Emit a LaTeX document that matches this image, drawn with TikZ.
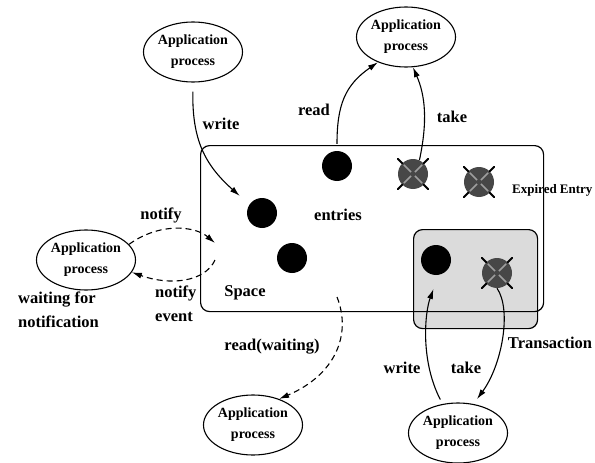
\documentclass[tikz,border=0pt]{standalone}
\usepackage{fontspec}
\setmainfont{Liberation Serif}
\usetikzlibrary{shapes.geometric,arrows.meta,calc}
\newcommand\appfont{\fontsize{14}{21}\selectfont\bfseries}
\newcommand\lblfont{\fontsize{16.5}{23.5}\selectfont\bfseries}
\newcommand\xpfont{\fontsize{13}{15}\selectfont\bfseries}
\tikzset{
  app/.style={ellipse, draw, line width=1.1pt, minimum width=92pt, minimum height=60pt, inner sep=0pt, align=center, font=\appfont},
  entry/.style={circle, fill=black, minimum size=30pt, inner sep=0pt},
  xentry/.style={circle, fill=black!72, minimum size=30pt, inner sep=0pt},
  lbl/.style={font=\lblfont, inner sep=0pt},
  conn/.style={line width=1.1pt, -{Latex[length=10pt,width=6pt]}},
  dconn/.style={conn, dash pattern=on 6pt off 4pt},
  spacebox/.style={draw, line width=1.2pt, rounded corners=9pt},
  transbox/.style={draw, line width=1.2pt, rounded corners=9pt, fill=black!14},
  xline/.style={line width=2pt, line cap=round},
  xinner/.style={line width=1.6pt, black!38},
}
\newcommand\xcross[1]{%
  \foreach \a in {45,135,225,315}{%
    \draw[xline] (#1.\a) -- ($(#1)!1.42!(#1.\a)$);
    \draw[xinner] ($(#1)!0.18!(#1.\a)$) -- ($(#1)!0.85!(#1.\a)$);
  }}
\begin{document}
\begin{tikzpicture}[x=1pt,y=-1pt]
\useasboundingbox (0,0) rectangle (595,463);
% boxes
\node[transbox, minimum width=124pt, minimum height=99pt, anchor=north west] (tb) at (413,229) {};
\node[spacebox, minimum width=343pt, minimum height=166pt, anchor=north west] (sb) at (200,145) {};
% application processes
\node[app] (tl) at (193,52) {Application\\process};
\node[app] (tr) at (406,37) {Application\\process};
\node[app] (lp) at (86,260) {Application\\process};
\node[app] (bc) at (253,425) {Application\\process};
\node[app] (br) at (458,433) {Application\\process};
% entries
\node[entry] (e1) at (262,213) {};
\node[entry] (e2) at (292,258) {};
\node[entry] (e3) at (337,166) {};
\node[entry] (t1) at (436,260) {};
\node[xentry] (x1) at (413,174) {};
\node[xentry] (x2) at (479,182) {};
\node[xentry] (t2) at (497,273) {};
\xcross{x1}
\xcross{x2}
\xcross{t2}
% labels
\node[lbl] (lwrite) at (221,124) {write};
\node[lbl] (lread) at (314,110) {read};
\node[lbl] (ltake) at (452,117) {take};
\node[lbl] (lentries) at (338,215) {entries};
\node[font=\xpfont, inner sep=0pt, anchor=west] (lexp) at (512,190) {Expired Entry};
\node[lbl] (lnotify) at (161,215) {notify};
\node[lbl, align=left, anchor=north west] (levent) at (155,286) {notify\\event};
\node[lbl, align=left, anchor=north west] (lwait) at (18,292) {waiting for\\notification};
\node[lbl] (lspace) at (245,293) {Space};
\node[lbl] (lrw) at (272,347) {read(waiting)};
\node[lbl] (lwrite2) at (402,368) {write};
\node[lbl] (ltake2) at (466,368) {take};
\node[lbl] (ltrans) at (550,343) {Transaction};
% free ends
\coordinate (n1) at (215,243);
\coordinate (n2) at (215,260);
\coordinate (rw) at (337,297);
% connectors
\draw[conn, shorten <=9pt, shorten >=13pt] (tl.south) .. controls (192,140) and (205,165) .. (e1.146);
\draw[conn, shorten <=7pt] (e3.north) .. controls (337,105) and (345,85) .. (tr.222);
\draw[conn] (x1.65) .. controls (428,120) and (425,95) .. (tr.283);
\draw[dconn] (lp.20) .. controls (160,222) and (195,226) .. (n1);
\draw[dconn] (n2) .. controls (205,282) and (170,286) .. (lp.-15);
\draw[dconn] (rw) .. controls (352,335) and (335,375) .. (bc.45);
\draw[conn, shorten <=5pt, shorten >=15pt] (br.118) .. controls (420,360) and (425,312) .. (t1.-80);
\draw[conn, shorten >=6pt] (t2.south) .. controls (512,310) and (502,365) .. (br.62);
\end{tikzpicture}
\end{document}
